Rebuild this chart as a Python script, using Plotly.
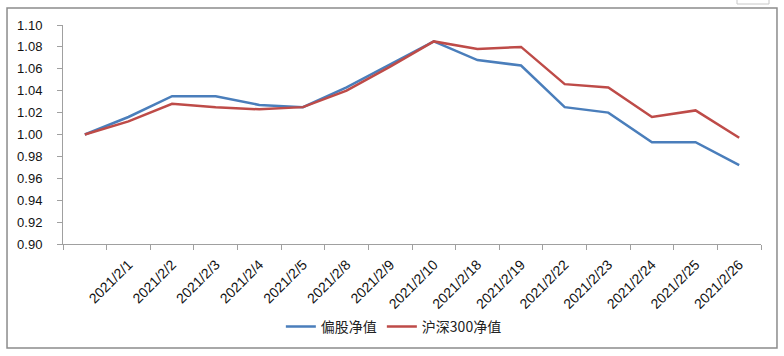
import plotly.graph_objects as go

dates = [" ", "2021/2/1", "2021/2/2", "2021/2/3", "2021/2/4", "2021/2/5", "2021/2/8",
         "2021/2/9", "2021/2/10", "2021/2/18", "2021/2/19", "2021/2/22", "2021/2/23",
         "2021/2/24", "2021/2/25", "2021/2/26"]
bias_nav = [1.000, 1.016, 1.035, 1.035, 1.027, 1.025, 1.043, 1.064, 1.085, 1.068,
            1.063, 1.025, 1.020, 0.993, 0.993, 0.972]
hs300_nav = [1.000, 1.012, 1.028, 1.025, 1.023, 1.025, 1.040, 1.062, 1.085, 1.078,
             1.080, 1.046, 1.043, 1.016, 1.022, 0.997]
y_ticks = [0.90, 0.92, 0.94, 0.96, 0.98, 1.00, 1.02, 1.04, 1.06, 1.08, 1.10]

fig = go.Figure()
fig.add_trace(go.Scatter(x=dates, y=bias_nav, mode="lines", name="偏股净值",
                         line=dict(color="#4a7ebb", width=2.5)))
fig.add_trace(go.Scatter(x=dates, y=hs300_nav, mode="lines", name="沪深300净值",
                         line=dict(color="#be4b48", width=2.5)))

fig.update_layout(
    width=784, height=356,
    margin=dict(l=63, r=23, t=25, b=112, autoexpand=False),
    paper_bgcolor="white", plot_bgcolor="white",
    showlegend=True,
    legend=dict(orientation="h", x=0.474, xanchor="center", y=-0.379, yanchor="middle",
                font=dict(family="Noto Sans CJK SC", size=14, color="#222"),
                itemwidth=30, tracegroupgap=0),
    xaxis=dict(type="category", range=[-0.5, len(dates) - 0.5],
               tickson="boundaries", ticks="outside", ticklen=5,
               tickcolor="#a0a0a0", showline=True, linecolor="#a0a0a0", linewidth=1,
               showgrid=False, tickangle=-45, automargin=False,
               ticklabelshift=0, ticklabelstandoff=6,
               tickfont=dict(family="Liberation Sans, Arial", size=14, color="#111")),
    yaxis=dict(range=[0.90, 1.10], tickvals=y_ticks, tickformat=".2f",
               ticks="outside", ticklen=5, tickcolor="#a0a0a0",
               showline=True, linecolor="#a0a0a0", linewidth=1, showgrid=False,
               zeroline=False, ticklabelstandoff=12, automargin=False,
               tickfont=dict(family="Liberation Sans, Arial", size=13, color="#111")),
)

# outer chart border
fig.add_shape(type="rect", xref="paper", yref="paper",
              x0=-0.0802, x1=1.0229, y0=-0.4749, y1=1.0776,
              line=dict(color="#8c8c8c", width=1.5))
# small box fragment at top right
fig.add_shape(type="rect", xref="paper", yref="paper",
              x0=(737 - 63) / 698, x1=(769 - 63) / 698,
              y0=(244 - 4) / 219, y1=(244 + 2) / 219,
              line=dict(color="#c8c8c8", width=1))

fig.write_html("out.html", config={"displayModeBar": False},
               post_script="document.body.style.margin='0';document.body.style.overflow='hidden';")
